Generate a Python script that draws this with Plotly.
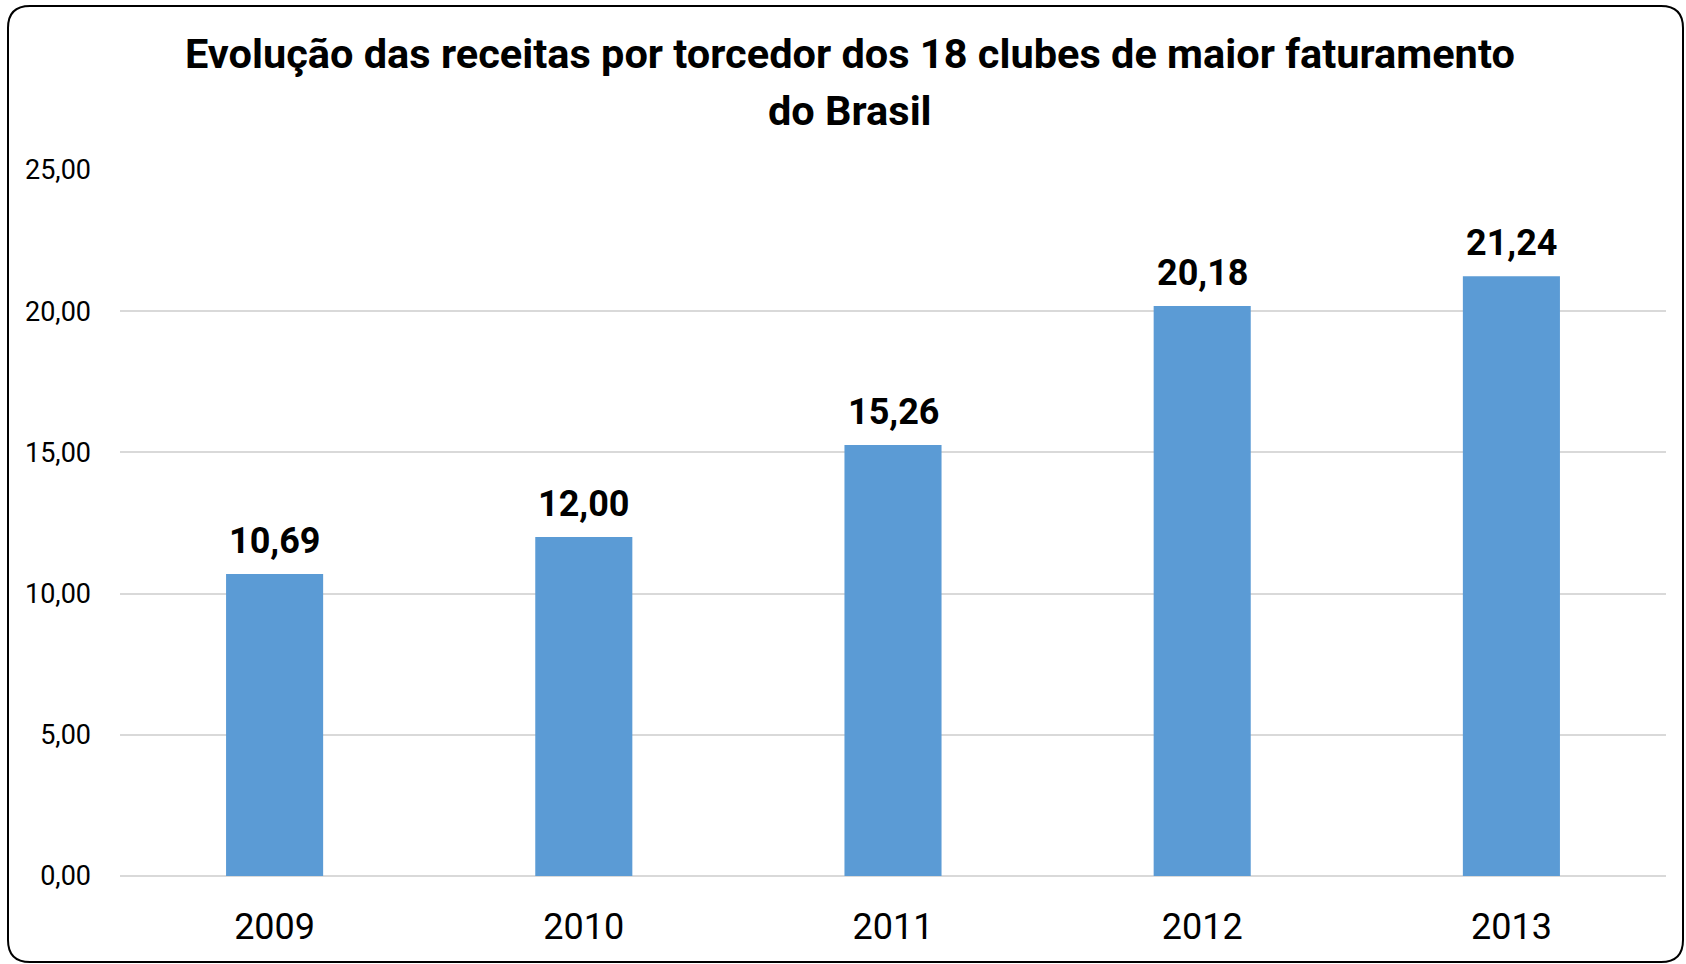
import plotly.graph_objects as go

years = ["2009", "2010", "2011", "2012", "2013"]
values = [10.69, 12.00, 15.26, 20.18, 21.24]
y_ticks = [0, 5, 10, 15, 20, 25]
title_lines = ["Evolução das receitas por torcedor dos 18 clubes de maior faturamento", "do Brasil"]

W, H = 1686, 964
L, R, T, B = 120, 20, 170, 88
pw, ph = W - L - R, H - T - B

def px(x):
    return (x - L) / pw

def py(y):
    return (H - B - y) / ph

fig = go.Figure(go.Bar(
    x=years, y=values,
    marker=dict(color="#5b9bd5", line=dict(width=0)),
    hoverinfo="x+y",
))

label_font = dict(family="Roboto, Arial", size=36, color="#000000", weight="bold")
# category axis: annotation x given as category index
annotations = [
    dict(x=i, y=v, xref="x", yref="y", text=f"{v:.2f}".replace(".", ","),
         showarrow=False, yanchor="bottom", yshift=10, font=label_font)
    for i, v in enumerate(values)
]
title_font = dict(family="Roboto, Arial", size=41.5, color="#000000", weight="bold")
for line, ypix in zip(title_lines, [54, 110]):
    annotations.append(dict(x=px(850), y=py(ypix), xref="paper", yref="paper", text=line,
                            showarrow=False, xanchor="center", yanchor="middle", font=title_font))

# rounded frame
x0, x1, y0, y1, r = 8, 1683, 6, 962, 22
path = (f"M {px(x0+r)},{py(y0)} L {px(x1-r)},{py(y0)} Q {px(x1)},{py(y0)} {px(x1)},{py(y0+r)} "
        f"L {px(x1)},{py(y1-r)} Q {px(x1)},{py(y1)} {px(x1-r)},{py(y1)} "
        f"L {px(x0+r)},{py(y1)} Q {px(x0)},{py(y1)} {px(x0)},{py(y1-r)} "
        f"L {px(x0)},{py(y0+r)} Q {px(x0)},{py(y0)} {px(x0+r)},{py(y0)} Z")

fig.update_layout(
    width=W, height=H,
    margin=dict(l=L, r=R, t=T, b=B),
    paper_bgcolor="white", plot_bgcolor="white",
    separators=",.",
    bargap=0.686,
    showlegend=False,
    annotations=annotations,
    xaxis=dict(
        type="category", range=[-0.5, len(years) - 0.5],
        showgrid=False, showline=False, zeroline=False,
        tickfont=dict(family="Roboto, Arial", size=36, color="#000000"),
        ticklabelstandoff=26,
    ),
    yaxis=dict(
        range=[0, 25], tickvals=y_ticks, tickformat=".2f",
        showgrid=True, gridcolor="#d9d9d9", gridwidth=1.5,
        zeroline=True, zerolinecolor="#d9d9d9", zerolinewidth=2,
        showline=False,
        tickfont=dict(family="Roboto, Arial", size=27, color="#000000"),
        ticklabelstandoff=28,
    ),
    shapes=[dict(type="path", path=path, xref="paper", yref="paper",
                 line=dict(color="#000000", width=2), fillcolor="rgba(0,0,0,0)", layer="above")],
)

fig.write_html("out.html", config={"displayModeBar": False},
               post_script="document.body.style.margin='0';document.body.style.overflow='hidden';")
